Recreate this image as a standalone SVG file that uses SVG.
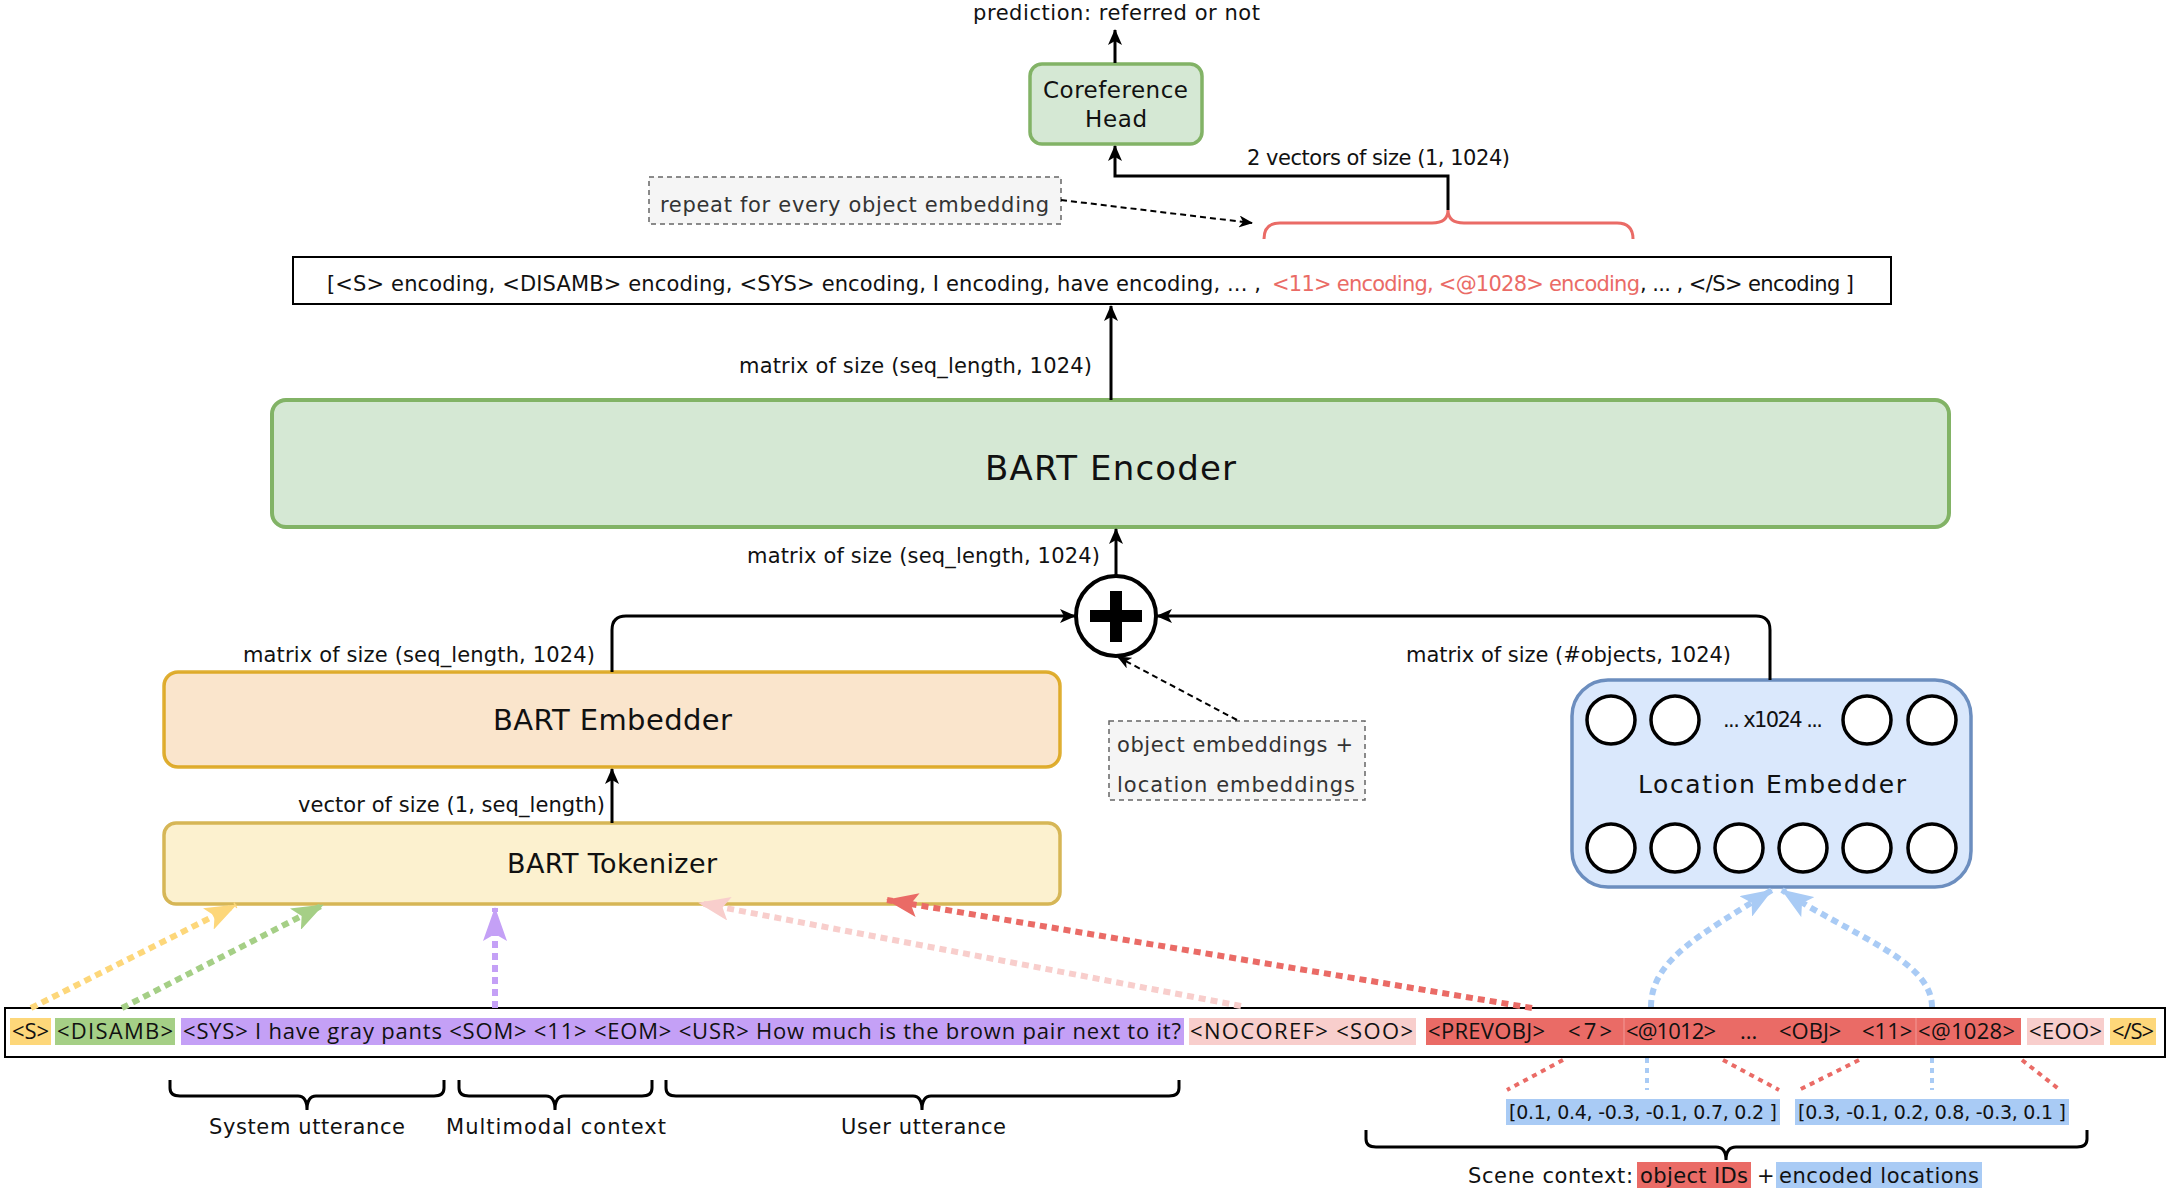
<svg xmlns="http://www.w3.org/2000/svg" width="2170" height="1192" viewBox="0 0 2170 1192">
<style>
text{font-family:"DejaVu Sans","Liberation Sans",sans-serif;fill:#111;}
.lbl{font-size:21px;}
.vec{font-size:19px;}
.tok{font-size:22px;font-family:"Open Sans","Noto Sans",sans-serif;}
.note{font-size:21px;fill:#333;}
.edge{fill:none;stroke:#000;stroke-width:3;}
.dash{fill:none;stroke:#000;stroke-width:2;stroke-dasharray:6 4;}
.dot{fill:none;stroke-width:6;stroke-dasharray:7 5;}
.brace{fill:none;stroke:#000;stroke-width:3;}
.circ{fill:#fff;stroke:#000;stroke-width:3.5;}
</style>
<defs>
<marker id="ab" markerUnits="userSpaceOnUse" markerWidth="16" markerHeight="14" refX="15" refY="7" orient="auto"><path d="M0,0 L16,7 L0,14 L4,7 Z" fill="#000"/></marker>
<marker id="as" markerUnits="userSpaceOnUse" markerWidth="14" markerHeight="12" refX="13" refY="6" orient="auto"><path d="M0,0 L14,6 L0,12 L4,6 Z" fill="#000"/></marker>
<marker id="ay" markerUnits="userSpaceOnUse" markerWidth="32" markerHeight="24" refX="31" refY="12" orient="auto"><path d="M0,0 L32,12 L0,24 L7,12 Z" fill="#fdd77a"/></marker>
<marker id="ag" markerUnits="userSpaceOnUse" markerWidth="32" markerHeight="24" refX="31" refY="12" orient="auto"><path d="M0,0 L32,12 L0,24 L7,12 Z" fill="#a5cf86"/></marker>
<marker id="ap" markerUnits="userSpaceOnUse" markerWidth="34" markerHeight="24" refX="33" refY="12" orient="auto"><path d="M0,0 L34,12 L0,24 L7,12 Z" fill="#c4a0f6"/></marker>
<marker id="ak" markerUnits="userSpaceOnUse" markerWidth="32" markerHeight="24" refX="31" refY="12" orient="auto"><path d="M0,0 L32,12 L0,24 L7,12 Z" fill="#f8cecc"/></marker>
<marker id="ar" markerUnits="userSpaceOnUse" markerWidth="32" markerHeight="24" refX="31" refY="12" orient="auto"><path d="M0,0 L32,12 L0,24 L7,12 Z" fill="#ea6b66"/></marker>
<marker id="al" markerUnits="userSpaceOnUse" markerWidth="32" markerHeight="24" refX="31" refY="12" orient="auto"><path d="M0,0 L32,12 L0,24 L7,12 Z" fill="#a9cbf5"/></marker>
</defs>
<rect width="2170" height="1192" fill="#fff"/>

<g id="prediction-label"><text class="lbl" x="973" y="20" textLength="287">prediction: referred or not</text></g>

<g id="coreference-head">
<rect x="1030" y="64" width="172" height="80" rx="12" fill="#d5e8d4" stroke="#82b366" stroke-width="3.5"/>
<text x="1043" y="98" font-size="23" textLength="145">Coreference</text>
<text x="1085" y="127" font-size="23" textLength="62">Head</text>
</g>

<g id="repeat-note">
<rect x="649" y="177" width="412" height="47" fill="#f5f5f5" stroke="#666" stroke-width="1.5" stroke-dasharray="5 4"/>
<text class="note" x="660" y="212" textLength="389">repeat for every object embedding</text>
</g>

<g id="encoding-sequence">
<rect x="293" y="257" width="1598" height="47" fill="#fff" stroke="#000" stroke-width="2"/>
<text class="lbl" x="327" y="291" textLength="934">[&lt;S&gt; encoding, &lt;DISAMB&gt; encoding, &lt;SYS&gt; encoding, I encoding, have encoding, ... ,</text>
<text class="lbl" x="1272" y="291" textLength="368" style="fill:#ea6b66">&lt;11&gt; encoding, &lt;@1028&gt; encoding</text>
<text class="lbl" x="1640" y="291" textLength="214">, ... , &lt;/S&gt; encoding ]</text>
</g>

<g id="bart-encoder">
<rect x="272" y="400" width="1677" height="127" rx="14" fill="#d5e8d4" stroke="#82b366" stroke-width="4"/>
<text x="985" y="480" font-size="34" textLength="251">BART Encoder</text>
</g>

<g id="plus">
<circle cx="1116" cy="616" r="40" fill="#fff" stroke="#000" stroke-width="4"/>
<rect x="1090" y="610" width="52" height="12" fill="#000"/>
<rect x="1110" y="591" width="12" height="51" fill="#000"/>
</g>

<g id="embedding-note">
<rect x="1109" y="721" width="256" height="79" fill="#f5f5f5" stroke="#666" stroke-width="1.5" stroke-dasharray="5 4"/>
<text class="note" x="1117" y="752" textLength="236">object embeddings +</text>
<text class="note" x="1117" y="792" textLength="238">location embeddings</text>
</g>

<g id="bart-embedder">
<rect x="164" y="672" width="896" height="95" rx="14" fill="#fae5cc" stroke="#d79b00" stroke-width="3.5" stroke-opacity="0.8"/>
<text x="493" y="730" font-size="29" textLength="239">BART Embedder</text>
</g>

<g id="bart-tokenizer">
<rect x="164" y="823" width="896" height="81" rx="12" fill="#fcf1cf" stroke="#d6b656" stroke-width="3.5"/>
<text x="507" y="873" font-size="27" textLength="210">BART Tokenizer</text>
</g>

<g id="location-embedder">
<rect x="1572" y="680" width="399" height="207" rx="36" fill="#dae8fc" stroke="#6c8ebf" stroke-width="3.5"/>
<ellipse class="circ" cx="1611" cy="720" rx="24" ry="24"/>
<ellipse class="circ" cx="1675" cy="720" rx="24" ry="24"/>
<ellipse class="circ" cx="1867" cy="720" rx="24" ry="24"/>
<ellipse class="circ" cx="1932" cy="720" rx="24" ry="24"/>
<text class="lbl" x="1723" y="727" textLength="100">... x1024 ...</text>
<text x="1638" y="793" font-size="25" textLength="268">Location Embedder</text>
<ellipse class="circ" cx="1611" cy="848" rx="24" ry="24"/>
<ellipse class="circ" cx="1675" cy="848" rx="24" ry="24"/>
<ellipse class="circ" cx="1739" cy="848" rx="24" ry="24"/>
<ellipse class="circ" cx="1803" cy="848" rx="24" ry="24"/>
<ellipse class="circ" cx="1867" cy="848" rx="24" ry="24"/>
<ellipse class="circ" cx="1932" cy="848" rx="24" ry="24"/>
</g>

<g id="input-sequence">
<rect x="5" y="1008" width="2160" height="49" fill="#fff" stroke="#000" stroke-width="2"/>
<rect x="10" y="1018" width="41" height="27" fill="#fdd77a"/>
<rect x="55" y="1018" width="120" height="27" fill="#a5cf86"/>
<rect x="181" y="1018" width="1003" height="27" fill="#c4a0f6"/>
<rect x="1189" y="1018" width="227" height="27" fill="#f8cecc"/>
<rect x="1426" y="1018" width="595" height="27" fill="#ea6b66"/>
<line x1="1624" y1="1018" x2="1624" y2="1045" stroke="#f29a96" stroke-width="1"/>
<line x1="1916" y1="1018" x2="1916" y2="1045" stroke="#f29a96" stroke-width="1"/>
<rect x="2027" y="1018" width="77" height="27" fill="#f8cecc"/>
<rect x="2110" y="1018" width="46" height="27" fill="#fdd77a"/>
<text class="tok" x="12" y="1039" textLength="37">&lt;S&gt;</text>
<text class="tok" x="57" y="1039" textLength="116">&lt;DISAMB&gt;</text>
<text class="tok" x="183" y="1039" textLength="998">&lt;SYS&gt; I have gray pants &lt;SOM&gt; &lt;11&gt; &lt;EOM&gt; &lt;USR&gt; How much is the brown pair next to it?</text>
<text class="tok" x="1190" y="1039" textLength="223">&lt;NOCOREF&gt; &lt;SOO&gt;</text>
<text class="tok" x="1428" y="1039" textLength="117">&lt;PREVOBJ&gt;</text>
<text class="tok" x="1568" y="1039" textLength="44">&lt;7&gt;</text>
<text class="tok" x="1626" y="1039" textLength="90">&lt;@1012&gt;</text>
<text class="tok" x="1740" y="1039">...</text>
<text class="tok" x="1779" y="1039" font-size="19">&lt;OBJ&gt;</text>
<text class="tok" x="1862" y="1039" font-size="19">&lt;11&gt;</text>
<text class="tok" x="1918" y="1039" textLength="97">&lt;@1028&gt;</text>
<text class="tok" x="2029" y="1039" textLength="73">&lt;EOO&gt;</text>
<text class="tok" x="2112" y="1039" textLength="42">&lt;/S&gt;</text>
</g>

<g id="vectors">
<rect x="1506" y="1099" width="274" height="26" fill="#a9cbf5"/>
<rect x="1795" y="1099" width="274" height="26" fill="#a9cbf5"/>
<text class="vec" x="1509" y="1119" textLength="268">[0.1, 0.4, -0.3, -0.1, 0.7, 0.2 ]</text>
<text class="vec" x="1798" y="1119" textLength="268">[0.3, -0.1, 0.2, 0.8, -0.3, 0.1 ]</text>
</g>

<g id="group-labels">
<text class="lbl" x="209" y="1134" textLength="196">System utterance</text>
<text class="lbl" x="446" y="1134" textLength="220">Multimodal context</text>
<text class="lbl" x="841" y="1134" textLength="165">User utterance</text>
</g>

<g id="scene-context">
<rect x="1637" y="1162" width="114" height="26" fill="#ea6b66"/>
<rect x="1776" y="1162" width="206" height="26" fill="#a9cbf5"/>
<text class="lbl" x="1468" y="1183" textLength="165">Scene context:</text>
<text class="lbl" x="1640" y="1183" textLength="108">object IDs</text>
<text class="lbl" x="1757" y="1183">+</text>
<text class="lbl" x="1779" y="1183" textLength="200">encoded locations</text>
</g>

<g id="connectors">
<line class="edge" x1="1115" y1="63" x2="1115" y2="30" marker-end="url(#ab)"/>
<path class="edge" d="M1448,210 L1448,176 L1115,176 L1115,146" marker-end="url(#ab)"/>
<text class="lbl" x="1247" y="165" textLength="263">2 vectors of size (1, 1024)</text>
<path d="M1264,239 Q1264,223 1280,223 L1432,223 Q1448,223 1448,210 Q1448,223 1464,223 L1617,223 Q1633,223 1633,239" fill="none" stroke="#ea6b66" stroke-width="3"/>
<path class="dash" d="M1061,200 L1252,223" marker-end="url(#as)"/>
<line class="edge" x1="1111" y1="400" x2="1111" y2="306" marker-end="url(#ab)"/>
<text class="lbl" x="739" y="373" textLength="353">matrix of size (seq_length, 1024)</text>
<line class="edge" x1="1116" y1="576" x2="1116" y2="529" marker-end="url(#ab)"/>
<text class="lbl" x="747" y="563" textLength="353">matrix of size (seq_length, 1024)</text>
<path class="edge" d="M612,672 L612,630 Q612,616 626,616 L1075,616" marker-end="url(#ab)"/>
<text class="lbl" x="243" y="662" textLength="352">matrix of size (seq_length, 1024)</text>
<path class="edge" d="M1770,680 L1770,630 Q1770,616 1756,616 L1157,616" marker-end="url(#ab)"/>
<text class="lbl" x="1406" y="662" textLength="325">matrix of size (#objects, 1024)</text>
<path class="dash" d="M1237,720 L1118,657" marker-end="url(#as)"/>
<line class="edge" x1="612" y1="823" x2="612" y2="769" marker-end="url(#ab)"/>
<text class="lbl" x="298" y="812" textLength="307">vector of size (1, seq_length)</text>
<path class="dot" stroke="#fdd77a" d="M31,1008 L236,905" marker-end="url(#ay)"/>
<path class="dot" stroke="#a5cf86" d="M122,1008 L323,905" marker-end="url(#ag)"/>
<path class="dot" stroke="#c4a0f6" d="M495,1008 L495,908" marker-end="url(#ap)"/>
<path class="dot" stroke="#f8cecc" d="M1241,1006 L699,903" marker-end="url(#ak)"/>
<path class="dot" stroke="#ea6b66" d="M1532,1008 L887,900" marker-end="url(#ar)"/>
<path class="dot" stroke="#a9cbf5" d="M1651,1007 C1651,960 1700,935 1772,890" marker-end="url(#al)"/>
<path class="dot" stroke="#a9cbf5" d="M1932,1007 C1932,960 1850,935 1782,890" marker-end="url(#al)"/>
<g stroke-width="4" stroke-dasharray="5 5" fill="none">
<line x1="1563" y1="1060" x2="1507" y2="1090" stroke="#ea6b66"/>
<line x1="1723" y1="1060" x2="1779" y2="1090" stroke="#ea6b66"/>
<line x1="1859" y1="1060" x2="1799" y2="1090" stroke="#ea6b66"/>
<line x1="2022" y1="1060" x2="2060" y2="1090" stroke="#ea6b66"/>
<line x1="1647" y1="1058" x2="1647" y2="1090" stroke="#a9cbf5"/>
<line x1="1932" y1="1058" x2="1932" y2="1090" stroke="#a9cbf5"/>
</g>
<path class="brace" d="M170,1080 L170,1088 Q170,1096 180,1096 L298,1096 Q307,1096 307,1110 Q307,1096 316,1096 L434,1096 Q444,1096 444,1088 L444,1080"/>
<path class="brace" d="M459,1080 L459,1088 Q459,1096 469,1096 L546,1096 Q555,1096 555,1110 Q555,1096 564,1096 L642,1096 Q652,1096 652,1088 L652,1080"/>
<path class="brace" d="M666,1080 L666,1088 Q666,1096 676,1096 L913,1096 Q922,1096 922,1110 Q922,1096 931,1096 L1169,1096 Q1179,1096 1179,1088 L1179,1080"/>
<path class="brace" d="M1366,1130 L1366,1139 Q1366,1147 1376,1147 L1716,1147 Q1726,1147 1726,1160 Q1726,1147 1736,1147 L2077,1147 Q2087,1147 2087,1139 L2087,1130"/>
</g>
</svg>
